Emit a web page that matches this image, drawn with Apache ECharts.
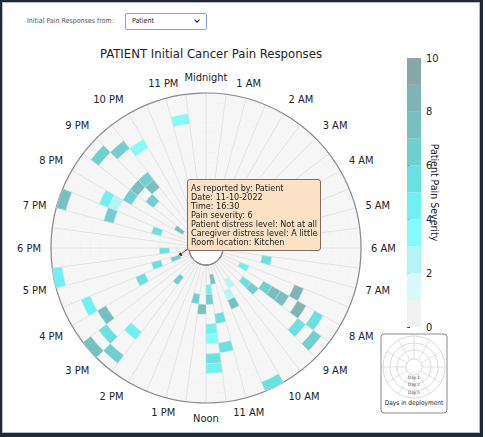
<!DOCTYPE html>
<html>
<head>
<meta charset="utf-8">
<title>PATIENT Initial Cancer Pain Responses</title>
<script src="https://cdn.jsdelivr.net/npm/echarts@6/dist/echarts.min.js"></script>
<style>
html, body { margin: 0; padding: 0; background: #fff; }
#frame {
    position: absolute; left: 0; top: 0; width: 478px; height: 431px;
    border: 2px solid #1e2a3a; border-right-width: 3px; border-bottom-width: 4px;
    box-shadow: inset 0 0 0 1px #b8bcc2;
}
#chart { position: absolute; left: 0; top: 0; width: 485px; height: 437px; }
#picker {
    position: absolute; left: 27px; top: 13px; z-index: 5;
    font-family: 'DejaVu Sans Condensed', 'Liberation Sans Narrow', 'DejaVu Sans', sans-serif;
}
#picker .lbl { position: absolute; left: 0; top: 4px; font-size: 7px; color: #555; white-space: nowrap; }
#picker .box {
    position: absolute; left: 98px; top: 0; width: 80px; height: 15px;
    border: 1px solid #7aa6df; border-radius: 2px; background: #fff;
    font-size: 7px; color: #222; line-height: 15px; text-indent: 6px;
}
#picker .chev {
    position: absolute; right: 7px; top: 4px; width: 3px; height: 3px;
    border-right: 1.5px solid #222; border-bottom: 1.5px solid #222; transform: rotate(45deg);
}
</style>
</head>
<body>
<div id="frame"></div>
<div id="chart"></div>
<div id="picker">
    <span class="lbl">Initial Pain Responses from:</span>
    <div class="box">Patient<span class="chev"></span></div>
</div>
<script>
var fontStack = "'DejaVu Sans Condensed', 'Liberation Sans Narrow', 'DejaVu Sans', sans-serif";

// 钟面标签（每小时一个）
var hourLabels = ['Midnight', '1 AM', '2 AM', '3 AM', '4 AM', '5 AM', '6 AM', '7 AM', '8 AM', '9 AM', '10 AM', '11 AM',
    'Noon', '1 PM', '2 PM', '3 PM', '4 PM', '5 PM', '6 PM', '7 PM', '8 PM', '9 PM', '10 PM', '11 PM'];
var dayCount = 14;

// 每个回答：部署第几天（环）、半小时时段起点（小时）、疼痛程度
var cellDay = [11, 12, 11, 10, 13, 9, 8, 8, 7, 7, 7, 6, 5, 3, 1, 2, 1, 13, 11, 10, 11, 13, 12, 9, 5, 3, 2, 3, 4,
    4, 2, 1, 2, 3, 4, 5, 6, 7, 8, 9, 10, 11, 12, 4, 3, 5, 6, 7, 8, 9, 10, 13, 2, 3];
var cellHour = [23.0, 20.5, 21.0, 21.5, 19.0, 19.5, 19.5, 19.0, 20.5, 20.0, 21.0, 21.0, 20.5, 19.0, 20.0, 17.5, 16.5,
    17.0, 16.0, 15.5, 15.0, 15.0, 14.5, 14.5, 16.0, 16.5, 14.5, 12.5, 12.0,
    6.5, 7.5, 11.0, 9.5, 8.5, 8.5, 8.0, 8.0, 8.0, 7.5, 8.0, 8.5, 8.0, 8.5, 10.0, 10.0, 11.0, 11.5, 11.5, 11.0,
    11.5, 11.5, 10.0, 11.5, 11.5];
var cellSeverity = [3, 6, 6, 3, 7, 4, 2, 6, 7, 6, 6, 7, 6, 5, 7, 5, 6, 4, 4, 7, 5, 7, 6, 4, 5, 5, 6, 6, 7,
    5, 4, 7, 2, 5, 6, 6, 7, 7, 8, 8, 5, 5, 6, 7, 2, 5, 4, 3, 5, 5, 4, 5, 4, 6];

// 色标分段
var severityLevels = [0, 1, 2, 3, 4, 5, 6, 7, 8, 9];
var severityColors = ['#f1f1f1', '#d6f9f9', '#b4f6f6', '#84fbfb', '#6ff1f1', '#6be0e0', '#70cfcf', '#77c0c0', '#7eb4b4', '#89a6a6'];

// 悬停的那条回答
var tipIndex = 16;
var tipReporter = 'Patient';
var tipDate = '11-10-2022';
var tipTime = '16:30';
var tipPatientDistress = 'Not at all';
var tipCaregiverDistress = 'A little';
var tipRoom = 'Kitchen';

var cx = 206, cy = 248;

var cellData = [];
for (var i = 0; i < cellDay.length; i++) {
    cellData.push([cellDay[i], cellHour[i], cellSeverity[i]]);
}
var barData = [];
for (var k = 0; k < severityLevels.length; k++) {
    barData.push([0, severityLevels[k], severityLevels[k] + 0.5]);
}
var pieces = [];
for (var p = 0; p < severityLevels.length; p++) {
    var pc = { gte: severityLevels[p], color: severityColors[p] };
    if (p === severityLevels.length - 1) { pc.lte = severityLevels[p] + 1; } else { pc.lt = severityLevels[p] + 1; }
    pieces.push(pc);
}

function renderCell(params, api) {
    var day = api.value(0), hour = api.value(1);
    var pts = [], steps = 4, j, c;
    for (j = 0; j <= steps; j++) {
        c = api.coord([day, hour + 0.5 * j / steps]);
        pts.push([c[0], c[1]]);
    }
    for (j = steps; j >= 0; j--) {
        c = api.coord([day + 1, hour + 0.5 * j / steps]);
        pts.push([c[0], c[1]]);
    }
    return {
        type: 'polygon',
        shape: { points: pts },
        style: { fill: api.visual('color'), stroke: '#e4e4e4', lineWidth: 0.4 }
    };
}

function renderBar(params, api) {
    var lo = api.coord([0, api.value(1)]);
    var hi = api.coord([1, api.value(1) + 1]);
    return {
        type: 'rect',
        shape: { x: lo[0], y: hi[1], width: hi[0] - lo[0], height: lo[1] - hi[1] },
        style: { fill: api.visual('color') }
    };
}

var myChart = echarts.init(document.getElementById('chart'), null, { renderer: 'svg' });
var option = {
    animation: false,
    textStyle: { fontFamily: fontStack },
    title: {
        text: 'PATIENT Initial Cancer Pain Responses',
        left: cx, top: 42, textAlign: 'center',
        textStyle: { fontSize: 13, fontWeight: 'normal', color: '#222', fontFamily: fontStack }
    },
    tooltip: {
        trigger: 'item',
        alwaysShowContent: true,
        transitionDuration: 0,
        position: [187, 179],
        backgroundColor: '#fbe2c6',
        borderColor: '#7d6e60',
        borderWidth: 1,
        padding: [4, 3, 3, 3],
        extraCssText: 'box-shadow:none;border-radius:3px;',
        textStyle: { color: '#222', fontSize: 9, fontFamily: fontStack },
        formatter: function (pr) {
            if (pr.seriesIndex !== 0) { return ''; }
            var rows = [
                'As reported by: ' + tipReporter,
                'Date: ' + tipDate,
                'Time: ' + tipTime,
                'Pain severity: ' + pr.value[2],
                'Patient distress level: ' + tipPatientDistress,
                'Caregiver distress level: ' + tipCaregiverDistress,
                'Room location: ' + tipRoom
            ];
            return '<div style="line-height:9px;font-size:9px">' + rows.join('<br/>') + '</div>';
        }
    },
    visualMap: {
        type: 'piecewise',
        show: false,
        dimension: 2,
        seriesIndex: [0, 1],
        pieces: pieces
    },
    polar: { center: [cx, cy], radius: [17, 155] },
    angleAxis: {
        type: 'value', min: 0, max: 24, interval: 0.5,
        startAngle: 90, clockwise: true,
        axisLine: { show: true, lineStyle: { color: '#8a8a8a', width: 1.2 } },
        axisTick: { show: false },
        axisLabel: {
            margin: 10, fontSize: 11, color: '#222', fontFamily: fontStack,
            formatter: function (v) {
                if (v % 1 !== 0 || v >= 24) { return ''; }
                return hourLabels[v];
            }
        },
        splitLine: { show: true, lineStyle: { color: '#dedede', width: 0.8 } }
    },
    radiusAxis: {
        type: 'value', min: 0, max: dayCount, interval: 1,
        axisLine: { show: false }, axisTick: { show: false }, axisLabel: { show: false },
        splitLine: { show: true, lineStyle: { color: '#dedede', width: 0.8 } },
        splitArea: { show: true, areaStyle: { color: ['#f6f6f6', '#f6f6f6'] } }
    },
    grid: { left: 407, top: 58, width: 14, height: 269 },
    xAxis: { type: 'value', min: 0, max: 1, show: false },
    yAxis: {
        type: 'value', min: 0, max: 10, interval: 2, position: 'right',
        axisLine: { show: false },
        axisTick: { show: true, length: 3, lineStyle: { color: '#555' } },
        axisLabel: { margin: 5, fontSize: 11, color: '#222', fontFamily: fontStack },
        splitLine: { show: false },
        name: 'Patient Pain Severity', nameLocation: 'middle', nameRotate: -90, nameGap: 8,
        nameMoveOverlap: false,
        nameTextStyle: { fontSize: 10.5, color: '#222', fontFamily: fontStack }
    },
    series: [{
        name: 'Responses',
        type: 'custom',
        coordinateSystem: 'polar',
        encode: { radius: 0, angle: 1, tooltip: [2] },
        renderItem: renderCell,
        data: cellData
    }, {
        name: 'Colorbar',
        type: 'custom',
        coordinateSystem: 'cartesian2d',
        encode: { x: 0, y: 1 },
        silent: true,
        tooltip: { show: false },
        renderItem: renderBar,
        data: barData
    }]
};
myChart.setOption(option);

// 图注与提示箭头
var target = myChart.convertToPixel({ seriesIndex: 0 }, [cellDay[tipIndex] + 0.5, cellHour[tipIndex] + 0.25]);
var from = [190, 247];
var dx = target[0] - from[0], dy = target[1] - from[1];
var len = Math.sqrt(dx * dx + dy * dy), ux = dx / len, uy = dy / len;
var tip = [from[0] + ux * (len - 2), from[1] + uy * (len - 2)];
var head = [
    tip,
    [tip[0] - ux * 5 - uy * 2, tip[1] - uy * 5 + ux * 2],
    [tip[0] - ux * 5 + uy * 2, tip[1] - uy * 5 - ux * 2]
];

var ix = 414, iy = 367;
var inset = [{
    type: 'rect', shape: { x: 381, y: 334, width: 66, height: 79, r: 3 },
    style: { fill: '#fff', stroke: '#8a8a8a', lineWidth: 1 }
}];
[31, 24, 17, 8].forEach(function (r) {
    inset.push({ type: 'circle', shape: { cx: ix, cy: iy, r: r }, style: { fill: 'none', stroke: '#cfcfcf', lineWidth: 0.8 } });
});
for (var a = 0; a < 12; a++) {
    var ang = a * Math.PI / 6;
    inset.push({
        type: 'line',
        shape: { x1: ix + 8 * Math.sin(ang), y1: iy - 8 * Math.cos(ang), x2: ix + 31 * Math.sin(ang), y2: iy - 31 * Math.cos(ang) },
        style: { stroke: '#d6d6d6', lineWidth: 0.7 }
    });
}
[['Day 1', 377], ['Day 2', 384], ['Day n', 392]].forEach(function (t) {
    inset.push({
        type: 'text', x: ix, y: t[1],
        style: { text: t[0], fontSize: 4.5, fill: '#444', align: 'center', verticalAlign: 'middle', fontFamily: fontStack }
    });
});
inset.push({
    type: 'text', x: ix, y: 403,
    style: { text: 'Days in deployment', fontSize: 6.5, fill: '#222', align: 'center', verticalAlign: 'middle', fontFamily: fontStack }
});

myChart.setOption({
    graphic: [
        { type: 'circle', silent: true, shape: { cx: cx, cy: cy, r: 17 }, style: { fill: '#fff', stroke: '#5a5a5a', lineWidth: 1 } },
        { type: 'line', silent: true, shape: { x1: from[0], y1: from[1], x2: tip[0], y2: tip[1] }, style: { stroke: '#333', lineWidth: 0.8 } },
        { type: 'polygon', silent: true, shape: { points: head }, style: { fill: '#222' } },
        { type: 'group', silent: true, children: inset }
    ]
});

function showResponse() {
    myChart.dispatchAction({ type: 'showTip', seriesIndex: 0, dataIndex: tipIndex });
}
showResponse();
setTimeout(showResponse, 30);
</script>
</body>
</html>
